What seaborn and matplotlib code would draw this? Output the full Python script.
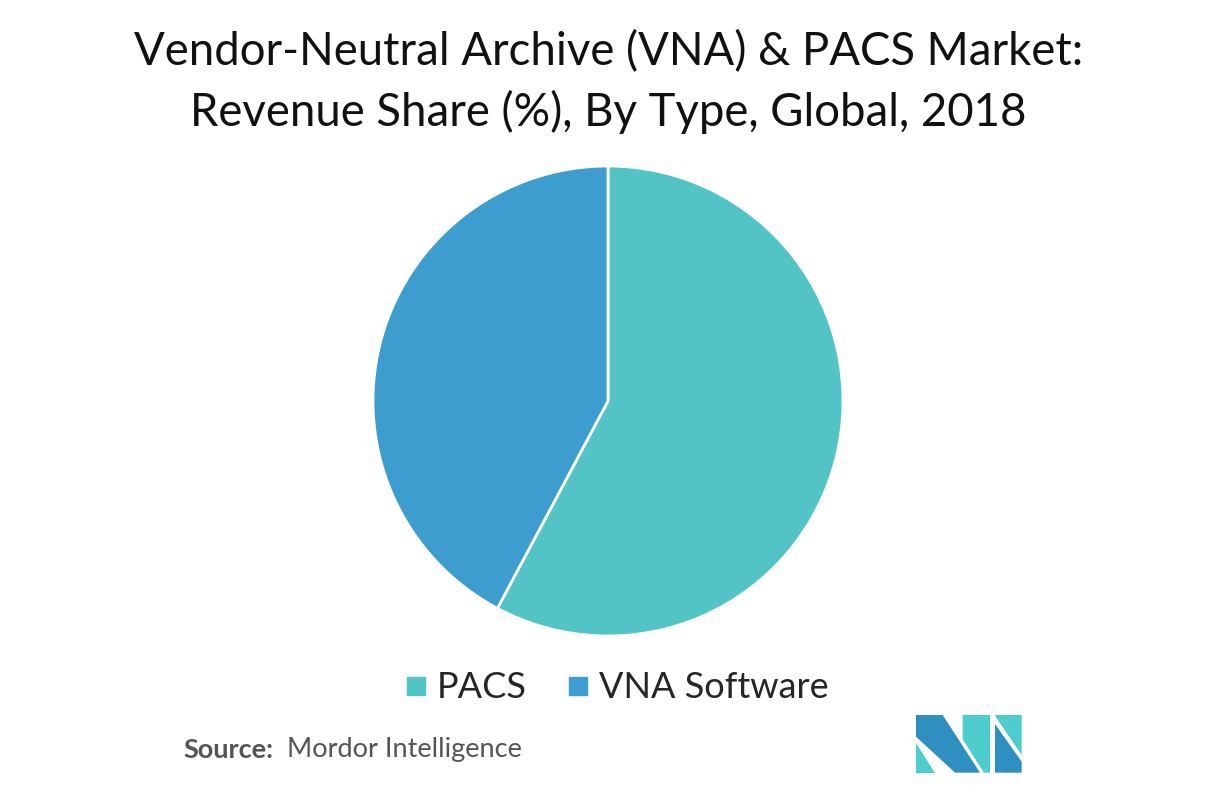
import matplotlib
matplotlib.use('Agg')
import matplotlib.pyplot as plt
from matplotlib.patches import Polygon
from matplotlib.lines import Line2D
import seaborn as sns

labels = ['PACS', 'VNA Software']
shares = [57.8, 42.2]
colors = ['#52C4C6', '#3D9DCE']

sns.set_theme(style='white')
plt.rcParams['font.family'] = ['Lato', 'DejaVu Sans']

W, H = 1217, 786
fig = plt.figure(figsize=(W / 100, H / 100), dpi=100)

# pie area: centre ~ (608, 401), radius ~235 px
cx, cy, r = 608, 401, 235
ax = fig.add_axes([(cx - r) / W, 1 - (cy + r) / H, 2 * r / W, 2 * r / H])
ax.pie(shares, colors=colors, startangle=90, counterclock=False, radius=1,
       wedgeprops=dict(edgecolor='white', linewidth=2))
ax.set_xlim(-1, 1)
ax.set_ylim(-1, 1)
ax.set_aspect('equal')
ax.axis('off')

# title
fig.text(0.5, 1 - 52 / H, 'Vendor-Neutral Archive (VNA) & PACS Market:',
         ha='center', va='center', fontsize=32.8, color='#111111')
fig.text(0.5, 1 - 112 / H, 'Revenue Share (%), By Type, Global, 2018',
         ha='center', va='center', fontsize=32.8, color='#111111')

# legend
handles = [Line2D([], [], marker='s', linestyle='', markersize=13,
                  markerfacecolor=c, markeredgecolor=c) for c in colors]
fig.legend(handles, labels, loc='center', bbox_to_anchor=(615 / W, 1 - 688 / H),
           ncol=2, frameon=False, fontsize=26, handletextpad=0.2,
           columnspacing=1.0, handlelength=0.8)

# source
fig.text(183 / W, 1 - 750 / H, 'Source:', ha='left', va='center',
         fontsize=19.5, fontweight='bold', color='#555555')
fig.text(287 / W, 1 - 750 / H, 'Mordor Intelligence', ha='left', va='center',
         fontsize=19.5, color='#555555')

# logo
def px(pts):
    return [((900 + x / 3) / W, 1 - (700 + y / 3) / H) for x, y in pts]

dark, light = '#2E8FC0', '#4ECDCE'
logo = [
    ([(48, 45), (128, 45), (240, 218), (165, 218), (48, 110)], dark),
    ([(48, 128), (48, 218), (105, 218)], light),
    ([(188, 45), (270, 45), (270, 218), (252, 218), (188, 118)], light),
    ([(285, 45), (365, 45), (365, 165), (290, 55)], light),
    ([(285, 72), (365, 185), (365, 218), (285, 218)], dark),
]
for pts, c in logo:
    fig.patches.append(Polygon(px(pts), closed=True, facecolor=c,
                               edgecolor='none', transform=fig.transFigure))

fig.savefig('out.png', dpi=100, facecolor='white')
